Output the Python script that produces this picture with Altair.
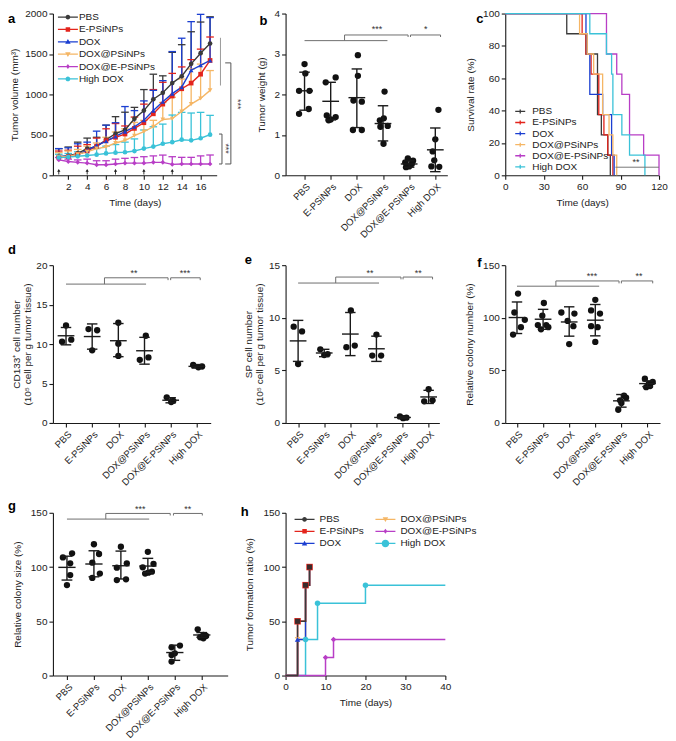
import altair as alt
import pandas as pd

FONT = "Liberation Sans"
INK = "#1a1a1a"
GRAY = "#6e6e6e"

groups = ["PBS", "E-PSiNPs", "DOX", "DOX@PSiNPs", "DOX@E-PSiNPs", "High DOX"]
colors = ["#3a3a3a", "#e3241c", "#1b3fd1", "#f5b665", "#b83ec6", "#3ac2d8"]
shapes_a = ["circle", "square", "triangle-up", "triangle-down", "diamond", "circle"]

# ---------------- panel a : tumour volume ----------------
a_days = list(range(1, 18))
a_mean = {
    "PBS":          [230, 240, 270, 330, 355, 440, 515, 560, 700, 800, 940, 1020, 1140, 1225, 1378, 1510, 1630],
    "E-PSiNPs":     [220, 230, 260, 300, 360, 430, 470, 510, 580, 650, 760, 880, 980, 1070, 1140, 1250, 1420],
    "DOX":          [230, 240, 250, 310, 370, 420, 480, 540, 600, 680, 800, 910, 1010, 1090, 1300, 1360, 1420],
    "DOX@PSiNPs":   [230, 230, 260, 290, 330, 350, 400, 430, 490, 540, 600, 690, 700, 790, 880, 950, 1050],
    "DOX@E-PSiNPs": [190, 170, 160, 150, 130, 130, 140, 150, 150, 150, 160, 160, 135, 140, 140, 140, 140],
    "High DOX":     [220, 225, 235, 245, 255, 270, 280, 285, 300, 330, 355, 390, 410, 440, 432, 458, 502],
}
a_upper = {
    "PBS":          [330, 350, 410, 460, 470, 620, 725, 780, 840, 1060, 1250, 1230, 1520, 1615, 1775, 1895, 1960],
    "E-PSiNPs":     [300, 310, 360, 380, 460, 575, 640, 610, 720, 880, 1060, 1150, 1260, 1340, 1430, 1560, 1710],
    "DOX":          [330, 340, 390, 410, 546, 620, 650, 850, 800, 920, 1050, 1170, 1530, 1695, 1900, 1990, 1950],
    "DOX@PSiNPs":   [280, 300, 320, 360, 400, 470, 535, 575, 655, 680, 680, 900, 965, 1190, 1315, 1375, 1295],
    "DOX@E-PSiNPs": [220, 200, 190, 200, 180, 180, 200, 210, 220, 230, 240, 250, 230, 222, 222, 240, 251],
    "High DOX":     [260, 270, 290, 310, 330, 360, 380, 410, 450, 560, 600, 633, 745, 778, 770, 778, 741],
}
a_inject_days = [1, 4, 7, 10, 13]
a_inject_level = [45, 45, 45, 45, 45]
# significance brackets (x1, y1, x2, y2, colour)
a_brackets = [
    (18.1, 1700, 18.1, 1110, "#9a9a9a"),
    (18.6, 1390, 19.2, 1390, "#555555"),
    (19.2, 1390, 19.2, 140, "#555555"),
    (18.6, 140, 19.2, 140, "#555555"),
    (17.95, 510, 18.26, 510, "#555555"),
    (18.26, 510, 18.26, 140, "#555555"),
    (17.95, 140, 18.26, 140, "#555555"),
]
a_stars = [(20.0, 880, "***"), (18.7, 330, "***")]

# ---------------- panel b : tumour weight ----------------
b_vals = [
    [2.75, 2.52, 2.09, 2.09, 1.64, 1.52],
    [2.42, 2.30, 1.48, 1.44, 1.38, 1.36],
    [2.97, 2.46, 1.85, 1.82, 1.12, 1.12],
    [2.07, 1.41, 1.36, 1.22, 1.20, 0.78],
    [0.42, 0.36, 0.32, 0.28, 0.22, 0.20],
    [1.62, 0.89, 0.59, 0.37, 0.22, 0.21],
]
b_offs = [
    [0.0, 0.03, -0.21, 0.19, 0.16, -0.21],
    [0.19, -0.19, -0.15, 0.19, 0.0, -0.08],
    [0.04, 0.04, -0.13, 0.19, -0.15, 0.19],
    [0.06, 0.03, -0.12, 0.18, -0.1, 0.02],
    [-0.05, 0.15, -0.15, 0.1, 0.0, -0.12],
    [0.12, 0.0, -0.1, -0.04, -0.15, 0.15],
]
b_mean = [2.09, 1.83, 1.92, 1.28, 0.28, 0.63]
b_lo = [1.61, 1.37, 1.18, 0.85, 0.20, 0.09]
b_hi = [2.55, 2.30, 2.63, 1.72, 0.36, 1.17]
b_segs = [(0, 3.33, 3.17, 3.33), (1.53, 3.33, 1.53, 3.47), (1.53, 3.47, 3.96, 3.47),
          (3.96, 3.47, 3.96, 3.42), (4.05, 3.47, 5.2, 3.47), (4.05, 3.47, 4.05, 3.42),
          (5.2, 3.47, 5.2, 3.42)]
b_stars = [(2.77, 3.63, "***"), (4.63, 3.63, "*")]

# ---------------- panel c : survival ----------------
c_times = {
    "PBS":          [0, 48, 63, 72, 75, 80, 82],
    "E-PSiNPs":     [0, 60, 63, 67, 73, 77, 80, 84],
    "DOX":          [0, 63, 64, 66, 76, 83, 85],
    "DOX@PSiNPs":   [0, 58, 64, 69, 76, 81, 84, 87],
    "DOX@E-PSiNPs": [0, 79, 87, 91, 97, 108, 120],
    "High DOX":     [0, 66, 79, 83, 84, 91, 97, 109],
}
c_surv = {
    "PBS":          [100, 87.5, 75, 37.5, 25, 12.5, 0],
    "E-PSiNPs":     [100, 87.5, 75, 62.5, 37.5, 25, 12.5, 0],
    "DOX":          [100, 87.5, 75, 50, 37.5, 12.5, 0],
    "DOX@PSiNPs":   [100, 87.5, 75, 62.5, 37.5, 25, 12.5, 0],
    "DOX@E-PSiNPs": [100, 75, 62.5, 50, 25, 12.5, 0],
    "High DOX":     [100, 87.5, 75, 62.5, 37.5, 25, 12.5, 0],
}
c_sig_line = (86, 5, 120, 5)
c_sig_star = (102, 8.5, "**")

# ---------------- panel d : CD133+ cells ----------------
d_vals = [[12.35, 10.3, 10.55], [11.9, 11.75, 9.2], [12.7, 10.05, 8.5],
          [11.05, 8.0, 8.3], [3.25, 2.8, 2.65], [7.35, 7.05, 7.15]]
d_offs = [[0.0, -0.15, 0.2], [-0.14, 0.19, 0.0], [0.0, 0.0, 0.0],
          [0.05, -0.18, 0.15], [-0.15, 0.1, 0.02], [-0.14, 0.06, 0.2]]
d_mean = [11.05, 10.95, 10.42, 9.15, 2.88, 7.17]
d_lo = [9.9, 9.35, 8.4, 7.45, 2.55, 6.95]
d_hi = [12.1, 12.55, 12.6, 10.85, 3.2, 7.4]
d_segs = [(0, 17.6, 3.06, 17.6), (1.47, 17.6, 1.47, 18.4), (1.47, 18.4, 3.9, 18.4),
          (3.9, 18.4, 3.9, 18.1), (4.0, 18.4, 5.13, 18.4), (4.0, 18.4, 4.0, 18.1),
          (5.13, 18.4, 5.13, 18.1)]
d_stars = [(2.6, 18.95, "**"), (4.55, 18.95, "***")]

# ---------------- panel e : SP cells ----------------
e_vals = [[9.15, 8.7, 5.6], [7.0, 6.45, 6.55], [10.7, 7.2, 7.35],
          [8.4, 6.4, 6.4], [0.62, 0.5, 0.45], [3.2, 2.05, 2.15]]
e_offs = [[-0.17, 0.15, 0.0], [-0.15, 0.0, 0.13], [0.02, -0.15, 0.17],
          [0.0, -0.16, 0.18], [-0.1, 0.15, 0.02], [0.0, -0.17, 0.15]]
e_mean = [7.8, 6.65, 8.45, 7.05, 0.52, 2.47]
e_lo = [5.85, 6.3, 6.4, 5.85, 0.42, 1.85]
e_hi = [9.75, 7.0, 10.5, 8.25, 0.62, 3.1]
e_segs = [(0, 13.3, 3.1, 13.3), (1.44, 13.3, 1.44, 13.87), (1.44, 13.87, 3.94, 13.87),
          (3.94, 13.87, 3.94, 13.65), (4.02, 13.87, 5.15, 13.87), (4.02, 13.87, 4.02, 13.65),
          (5.15, 13.87, 5.15, 13.65)]
e_stars = [(2.75, 14.3, "**"), (4.6, 14.3, "**")]

# ---------------- panel f : colony number ----------------
f_vals = [[123, 105, 98, 91, 84], [114, 102, 93, 93, 89, 91], [105, 104, 97, 92, 75],
          [117, 107, 104, 92, 91, 77], [26, 24, 21.5, 19, 12.5], [42, 39, 37, 35, 34]]
f_offs = [[0.04, -0.1, 0.3, 0.15, -0.15], [0.03, -0.03, -0.2, 0.12, -0.08, 0.2],
          [-0.3, 0.2, -0.06, 0.16, 0.0], [0.0, -0.16, 0.18, -0.16, 0.09, 0.0],
          [0.1, 0.18, -0.05, 0.0, -0.12], [-0.1, 0.2, 0.05, 0.1, -0.05]]
f_mean = [100.2, 98.6, 96, 97.7, 21, 37.4]
f_lo = [85, 89, 82.5, 82.8, 15, 34.5]
f_hi = [115, 108, 110.4, 112.6, 27, 40]
f_segs = [(0, 130, 3.15, 130), (1.49, 130, 1.49, 135), (1.49, 135, 3.91, 135),
          (3.91, 135, 3.91, 132.7), (4.0, 135, 5.2, 135), (4.0, 135, 4.0, 132.7),
          (5.2, 135, 5.2, 132.7)]
f_stars = [(2.87, 139.5, "***"), (4.67, 139.5, "**")]

# ---------------- panel g : colony size ----------------
g_vals = [[112.6, 108.9, 103.4, 92.6, 83.4], [121, 112, 104, 94, 90], [118.7, 103.4, 99.4, 88, 88.7],
          [114, 103, 99.7, 95.7, 94.8, 94], [27.6, 26, 20.5, 19, 12.9], [42.6, 37.4, 36.5, 35.3, 34.4]]
g_offs = [[0.19, -0.15, 0.12, 0.12, 0.0], [0.0, 0.19, -0.06, 0.22, -0.06], [0.0, 0.22, -0.15, -0.15, 0.19],
          [0.0, 0.21, -0.19, 0.15, 0.02, -0.1], [0.19, -0.12, 0.0, -0.12, -0.12], [-0.15, 0.06, 0.16, -0.06, 0.06]]
g_mean = [99.7, 102.8, 101.2, 100.9, 21.2, 37.4]
g_lo = [88, 91, 89, 94.8, 14, 35.3]
g_hi = [110, 115, 114.7, 108, 28, 39.6]
g_segs = [(0, 144.2, 3.05, 144.2), (1.44, 144.2, 1.44, 149.4), (1.44, 149.4, 3.83, 149.4),
          (3.83, 149.4, 3.83, 147.5), (3.95, 149.4, 5.02, 149.4), (3.95, 149.4, 3.95, 147.5),
          (5.02, 149.4, 5.02, 147.5)]
g_stars = [(2.72, 153.4, "***"), (4.48, 153.4, "**")]

# ---------------- panel h : tumour formation ----------------
h_step_x = {
    "PBS": [0, 3, 5, 6], "E-PSiNPs": [0, 3, 5, 6], "DOX": [0, 3, 5, 6],
    "DOX@PSiNPs": [0, 3, 5, 6], "DOX@E-PSiNPs": [0, 10, 12, 40], "High DOX": [0, 5, 8, 20, 40],
}
h_step_y = {
    "PBS": [0, 50, 83.3, 100], "E-PSiNPs": [0, 50, 83.3, 100], "DOX": [0, 33.3, 83.3, 100],
    "DOX@PSiNPs": [0, 33.3, 83.3, 100], "DOX@E-PSiNPs": [0, 16.7, 33.3, 33.3],
    "High DOX": [0, 33.3, 66.7, 83.3, 83.3],
}
h_mark_x = {"PBS": [3, 5, 6], "E-PSiNPs": [3, 5, 6], "DOX": [3], "DOX@PSiNPs": [3],
            "DOX@E-PSiNPs": [10, 12], "High DOX": [5, 8, 20]}
h_mark_y = {"PBS": [50, 83.3, 100], "E-PSiNPs": [50, 83.3, 100], "DOX": [33.3], "DOX@PSiNPs": [33.3],
            "DOX@E-PSiNPs": [16.7, 33.3], "High DOX": [33.3, 66.7, 83.3]}

# ================= helpers =================
cmap = dict(zip(groups, colors))
LINE = "M-4,-0.26H4V0.26H-4Z"
MK = {
    "circle": "M0.95,0A0.95,0.95,0,1,1,-0.95,0A0.95,0.95,0,1,1,0.95,0Z",
    "bigcircle": "M1.5,0A1.5,1.5,0,1,1,-1.5,0A1.5,1.5,0,1,1,1.5,0Z",
    "square": "M-0.9,-0.9H0.9V0.9H-0.9Z",
    "tri_up": "M0,-1.1L1.1,0.8H-1.1Z",
    "tri_down": "M0,1.1L-1.1,-0.8H1.1Z",
    "diamond": "M0,-1.0L0.75,0L0,1.0L-0.75,0Z",
}
a_leg_paths = [LINE + MK[k] for k in ["circle", "square", "tri_up", "tri_down", "diamond", "circle"]]
h_leg_paths = [LINE + MK[k] for k in ["circle", "square", "tri_up", "tri_down", "diamond", "bigcircle"]]
ARROW = "M0,-1L0.6,0H0.16V1H-0.16V0H-0.6Z"

LABEL_EXPR = "[" + ",".join("'%s'" % g for g in groups) + "][datum.value]"


def letter(t, dx, offset, dy):
    return alt.TitleParams(text=t, anchor="start", frame="group", dx=dx, dy=dy, offset=offset,
                           baseline="alphabetic", fontSize=13, fontWeight="bold", font=FONT, color="#000")


def seg_layer(df, X, Y, color=GRAY):
    return alt.Chart(df).mark_rule(strokeWidth=1, color=color).encode(
        x=X, y=Y, x2=alt.X2("x2:Q"), y2=alt.Y2("y2:Q"))


def star_layer(df, X, Y, angle=0, fs=9):
    return alt.Chart(df).mark_text(fontSize=fs, color="#333", angle=angle, font=FONT,
                                   baseline="middle").encode(x=X, y=Y, text="t:N")


def scatter_panel(vals, offs, mean, lo, hi, segs, stars, xdom, ydom, yticks, ytitle,
                  w, h, title, tpad):
    pts = pd.DataFrame([dict(x=i + o, y=v) for i, (vs, os) in enumerate(zip(vals, offs))
                        for v, o in zip(vs, os)])
    stats = pd.DataFrame(dict(i=list(range(6)), m=mean, lo=lo, hi=hi))
    sdf = pd.DataFrame(segs, columns=["x", "y", "x2", "y2"])
    tdf = pd.DataFrame(stars, columns=["x", "y", "t"])
    X = alt.X("x:Q", scale=alt.Scale(domain=xdom, nice=False, zero=False),
              axis=alt.Axis(values=[0, 1, 2, 3, 4, 5], labelExpr=LABEL_EXPR, labelAngle=-45,
                            title=None, labelFontSize=9.5, labelOverlap=False))
    Y = alt.Y("y:Q", scale=alt.Scale(domain=ydom, nice=False, zero=True),
              axis=alt.Axis(values=yticks, title=ytitle, titlePadding=tpad, format="d", titleLineHeight=11))
    dots = alt.Chart(pts).mark_circle(size=40, color="#111", opacity=1).encode(x=X, y=Y)
    base = alt.Chart(stats)
    meanl = base.transform_calculate(x="datum.i-0.32", x2="datum.i+0.32", y="datum.m", y2="datum.m") \
        .mark_rule(strokeWidth=1.4, color=INK).encode(x=X, y=Y, x2="x2:Q", y2="y2:Q")
    errv = base.transform_calculate(x="datum.i", y="datum.lo", y2="datum.hi") \
        .mark_rule(strokeWidth=1.4, color=INK).encode(x=X, y=Y, y2="y2:Q")
    caph = base.transform_calculate(x="datum.i-0.2", x2="datum.i+0.2", y="datum.hi", y2="datum.hi") \
        .mark_rule(strokeWidth=1.4, color=INK).encode(x=X, y=Y, x2="x2:Q", y2="y2:Q")
    capl = base.transform_calculate(x="datum.i-0.2", x2="datum.i+0.2", y="datum.lo", y2="datum.lo") \
        .mark_rule(strokeWidth=1.4, color=INK).encode(x=X, y=Y, x2="x2:Q", y2="y2:Q")
    return alt.layer(dots, errv, caph, capl, meanl, seg_layer(sdf, X, Y), star_layer(tdf, X, Y)) \
        .properties(width=w, height=h, title=title)


# ================= panel a =================
a_rows = []
for g in groups:
    for dd, m, u in zip(a_days, a_mean[g], a_upper[g]):
        a_rows.append(dict(group=g, x=dd, y=m, up=u))
a_df = pd.DataFrame(a_rows)
A_XSCALE = alt.Scale(domain=[0.38, 17.7], nice=False, zero=False)
A_YSCALE = alt.Scale(domain=[0, 2000], nice=False)
A_XAXIS = alt.Axis(values=[2, 4, 6, 8, 10, 12, 14, 16], title="Time (days)", titlePadding=6)
A_YAXIS = alt.Axis(values=[0, 500, 1000, 1500, 2000], title="Tumor volume (mm³)", titlePadding=5, format="d")
XA = alt.X("x:Q", scale=A_XSCALE, axis=A_XAXIS)
YA = alt.Y("y:Q", scale=A_YSCALE, axis=A_YAXIS)
col_a = alt.Color("group:N", scale=alt.Scale(domain=groups, range=colors), legend=None)
a_err = alt.Chart(a_df).mark_rule(strokeWidth=1.3).encode(x=XA, y=YA, y2="up:Q", color=col_a)
a_cap = alt.Chart(a_df).transform_calculate(x1="datum.x-0.4", x2="datum.x+0.4") \
    .mark_rule(strokeWidth=1.3).encode(x=alt.X("x1:Q", scale=A_XSCALE, axis=A_XAXIS), x2="x2:Q",
                                       y=alt.Y("up:Q", scale=A_YSCALE, axis=A_YAXIS), color=col_a)
a_line = alt.Chart(a_df).mark_line(strokeWidth=1.4).encode(x=XA, y=YA, color=col_a, detail="group:N")
a_pts = alt.Chart(a_df).mark_point(filled=True, size=22, opacity=1).encode(
    x=XA, y=YA, color=col_a,
    shape=alt.Shape("group:N", scale=alt.Scale(domain=groups, range=shapes_a), legend=None))
a_inj = alt.Chart(pd.DataFrame(dict(x=a_inject_days, y=a_inject_level))).mark_point(
    shape=ARROW, filled=True, size=30, color=INK, opacity=1, strokeWidth=0).encode(x=XA, y=YA)
a_bdf = pd.DataFrame(a_brackets, columns=["x", "y", "x2", "y2", "c"])
a_br = alt.Chart(a_bdf).mark_rule(strokeWidth=1).encode(
    x=XA, y=YA, x2="x2:Q", y2="y2:Q", color=alt.Color("c:N", scale=None, legend=None))
a_st = star_layer(pd.DataFrame(a_stars, columns=["x", "y", "t"]), XA, YA, angle=90, fs=9)
a_legend = alt.Legend(orient="none", legendX=10, legendY=-1.5, title=None,
                      symbolSize=25, labelOffset=6, rowPadding=2.4,
                      labelFontSize=10, symbolStrokeWidth=0, padding=0)
a_leg = alt.Chart(a_df).transform_filter("false").mark_point(filled=True, opacity=1, strokeWidth=0).encode(
    color=alt.Color("group:N", scale=alt.Scale(domain=groups, range=colors), legend=a_legend),
    shape=alt.Shape("group:N", scale=alt.Scale(domain=groups, range=a_leg_paths), legend=a_legend))
panel_a = alt.layer(a_err, a_cap, a_line, a_pts, a_inj, a_br, a_st, a_leg) \
    .resolve_scale(color="independent", shape="independent") \
    .properties(width=164, height=162, title=letter("a", -45, 2, 29))

# ================= panel b =================
panel_b = scatter_panel(b_vals, b_offs, b_mean, b_lo, b_hi, b_segs, b_stars, [-0.725, 5.46], [0, 4],
                        [0, 1, 2, 3, 4], "Tumor weight (g)", 162, 162, letter("b", -26, 1, 30), 8)

# ================= panel c =================
c_rows = []
for g in groups:
    for k, (t, s) in enumerate(zip(c_times[g], c_surv[g])):
        c_rows.append(dict(group=g, x=t, y=s, k=k))
c_df = pd.DataFrame(c_rows)
XC = alt.X("x:Q", scale=alt.Scale(domain=[0, 120], nice=False),
           axis=alt.Axis(values=[0, 30, 60, 90, 120], title="Time (days)", titlePadding=6))
YC = alt.Y("y:Q", scale=alt.Scale(domain=[0, 100], nice=False),
           axis=alt.Axis(values=[0, 20, 40, 60, 80, 100], title="Survival rate (%)", titlePadding=7))
c_lines = alt.Chart(c_df).mark_line(interpolate="step-after", strokeWidth=1.3).encode(
    x=XC, y=YC, order="k:Q",
    color=alt.Color("group:N", scale=alt.Scale(domain=groups, range=colors),
                    legend=alt.Legend(orient="none", legendX=10, legendY=93, title=None,
                                      symbolType="M-2,0H2M0,-0.8V0.8", symbolSize=25,
                                      symbolStrokeWidth=1.3, labelOffset=7, rowPadding=1.1,
                                      labelFontSize=10, padding=0)))
c_sig = seg_layer(pd.DataFrame([c_sig_line], columns=["x", "y", "x2", "y2"]), XC, YC, color="#777")
c_st = star_layer(pd.DataFrame([c_sig_star], columns=["x", "y", "t"]), XC, YC)
panel_c = alt.layer(c_lines, c_sig, c_st).properties(width=154, height=162, title=letter("c", -29, 2, 29))

# ================= panels d, e, f, g =================
panel_d = scatter_panel(d_vals, d_offs, d_mean, d_lo, d_hi, d_segs, d_stars, [-0.5, 5.53], [0, 20],
                        [0, 5, 10, 15, 20], ["CD133⁺ cell number", "(10⁵ cell  per g tumor tissue)"],
                        158, 158, letter("d", -45, 11, 18), 3)
panel_e = scatter_panel(e_vals, e_offs, e_mean, e_lo, e_hi, e_segs, e_stars, [-0.48, 5.41], [0, 15],
                        [0, 5, 10, 15], ["SP cell number", "(10⁵ cell per g tumor tissue)"],
                        154, 158, letter("e", -41, 0, 17), 4)
panel_f = scatter_panel(f_vals, f_offs, f_mean, f_lo, f_hi, f_segs, f_stars, [-0.45, 5.48], [0, 150],
                        [0, 50, 100, 150], "Relative colony number (%)", 155, 158, letter("f", -28, 0, 20), 8)
panel_g = scatter_panel(g_vals, g_offs, g_mean, g_lo, g_hi, g_segs, g_stars, [-0.52, 5.96], [0, 150],
                        [0, 50, 100, 150], "Relative colony size (%)", 175, 163, letter("g", -45, 3, 21), 8)

# ================= panel h =================
h_order = ["High DOX", "DOX@E-PSiNPs", "DOX@PSiNPs", "DOX", "E-PSiNPs", "PBS"]
hl_rows, hm_rows = [], []
for g in h_order:
    for k, (t, s) in enumerate(zip(h_step_x[g], h_step_y[g])):
        hl_rows.append(dict(group=g, x=t, y=s, k=k))
    for t, s in zip(h_mark_x[g], h_mark_y[g]):
        hm_rows.append(dict(group=g, x=t, y=s))
hl_df = pd.DataFrame(hl_rows)
hm_df = pd.DataFrame(hm_rows)
XH = alt.X("x:Q", scale=alt.Scale(domain=[0, 40], nice=False),
           axis=alt.Axis(values=[0, 10, 20, 30, 40], title="Time (days)", titlePadding=6))
YH = alt.Y("y:Q", scale=alt.Scale(domain=[0, 150], nice=False),
           axis=alt.Axis(values=[0, 50, 100, 150], title="Tumor  formation ratio (%)", titlePadding=8))
col_h = alt.Color("group:N", scale=alt.Scale(domain=groups, range=colors), legend=None)
h_lines = alt.Chart(hl_df).mark_line(interpolate="step-after", strokeWidth=1.5).encode(
    x=XH, y=YH, order="k:Q", color=col_h, detail="group:N")
h_other = alt.Chart(hm_df).transform_filter(
    "datum.group != 'PBS' && datum.group != 'E-PSiNPs'").mark_point(filled=True, opacity=1).encode(
    x=XH, y=YH, color=col_h,
    shape=alt.Shape("group:N", scale=alt.Scale(domain=groups,
                                               range=["circle", "square", "triangle-up", "triangle-down", "diamond", "circle"]),
                    legend=None),
    size=alt.Size("group:N", scale=alt.Scale(domain=groups, range=[30, 30, 32, 32, 22, 55]), legend=None))
h_red = alt.Chart(hm_df).transform_filter("datum.group == 'E-PSiNPs'").mark_point(
    filled=True, opacity=1, shape="square", size=42, color=cmap["E-PSiNPs"]).encode(x=XH, y=YH)
h_blk = alt.Chart(hm_df).transform_filter("datum.group == 'PBS'").mark_point(
    filled=True, opacity=1, shape="square", size=26, color="#3a2b2b").encode(x=XH, y=YH)
h_legend = alt.Legend(orient="none", legendX=14, legendY=1.5, title=None, columns=2, columnPadding=11,
                      symbolSize=25, labelOffset=10, rowPadding=2.1, labelFontSize=10,
                      symbolStrokeWidth=0, padding=0)
h_leg = alt.Chart(hm_df).transform_filter("false").mark_point(filled=True, opacity=1, strokeWidth=0).encode(
    color=alt.Color("group:N", scale=alt.Scale(domain=groups, range=colors), legend=h_legend),
    shape=alt.Shape("group:N", scale=alt.Scale(domain=groups, range=h_leg_paths), legend=h_legend))
panel_h = alt.layer(h_lines, h_other, h_red, h_blk, h_leg) \
    .resolve_scale(color="independent", shape="independent") \
    .properties(width=160, height=163, title=letter("h", -45, 0, 21))

# ================= layout =================
chart = alt.concat(panel_a, panel_b, panel_c, panel_d, panel_e, panel_f, panel_g, panel_h,
                   columns=3, align="none", bounds="flush",
                   spacing=alt.RowColnumber(row=90, column=58), padding=0) \
    .resolve_scale(color="independent", shape="independent", size="independent") \
    .resolve_legend(color="independent", shape="independent", size="independent") \
    .configure(font=FONT) \
    .configure_view(stroke=None) \
    .configure_axis(domainColor=INK, tickColor=INK, labelColor="#222", titleColor="#222",
                    labelFontSize=10, titleFontSize=10, titleFontWeight="normal", grid=False,
                    tickSize=4, labelPadding=2, domainWidth=1.1, tickWidth=1.1,
                    labelFont=FONT, titleFont=FONT, labelFlush=False) \
    .configure_legend(labelFont=FONT, labelColor="#222")

chart.save("out.html", embed_options={"renderer": "svg", "actions": False})
